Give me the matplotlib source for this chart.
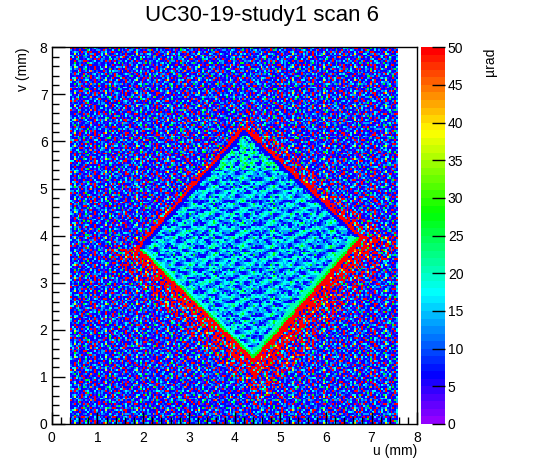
import colorsys
import numpy as np
import matplotlib
matplotlib.use("Agg")
import matplotlib.pyplot as plt
from matplotlib.colors import ListedColormap
from matplotlib.ticker import MultipleLocator

plt.rcParams['font.family'] = ['Liberation Sans', 'DejaVu Sans']

# --- data ---
title = "UC30-19-study1 scan 6"
x_label = "u (mm)"
y_label = "v (mm)"
z_label = "µrad"
z_ticks = [0, 5, 10, 15, 20, 25, 30, 35, 40, 45, 50]

# scanned area (mm) and bin width
u_range = [0.40, 7.57]
bin_w = 0.04

# diamond corners (u, v): top, right, bottom, left
corner_u = [4.20, 6.73, 4.41, 1.90]
corner_v = [6.25, 3.96, 1.39, 3.73]

# per edge: top->right, right->bottom, bottom->left, left->top
line_w = [0.05, 0.08, 0.06, 0.06]      # solid red line just outside
band1_w = [0.07, 0.05, 0.05, 0.08]     # first band just inside
band1_val = [6, 27, 26, 6]
band2_w = [0.0, 0.13, 0.10, 0.0]       # second band further inside
band2_val = [6, 20, 17, 6]
dense_w = [0.10, 0.35, 0.25, 0.0]      # dense red halo outside
sparse_w = [0.35, 0.75, 0.55, 0.15]    # sparse red halo outside
green_top_v = 5.4                      # greener interior above this v

# colour letters -> value in µrad ('.' = let the layer below show)
levels = {"p": 3, "b": 6, "d": 10, "l": 13, "c": 17, "t": 21,
          "g": 27, "y": 37, "o": 44, "r": 49}

# texture patches transcribed from zooms of the picture
bg_base = [
    "bldbbpbbdlbbdb",
    "dbbpbbldbbpbbl",
    "lbbdbbbbpbbdbb",
    "bpbbldbbbpblbd",
    "bbpbbbdlbdbbpb",
    "dbbdlbpbbbbdbl",
    "blbbbdbbpblbpb",
    "bdbpbblbdbdbbb",
    "pbbldbdbbpbbld",
    "pbbdbbpbblbbbb",
    "blbbdbbpbbbdpb",
    "bdbpbblbdbbbpb",
]
bg_spots1 = [
    "..r....c.....",
    ".....g....r..",
    "c.........l..",
    "...r...r.....",
    "........c...g",
    ".l...r.......",
    "......c...r..",
    "r..........c.",
    "....g...r....",
    ".c.......l...",
    "......r.....r",
]
bg_spots2 = [
    ".c....r.....y....",
    "....r.......c...r",
    "..g.....l........",
    "r.....c.....r....",
    "........r.....g..",
    ".l..o.........c..",
    "......r...c....r.",
]
inner_base = [
    "ccllbbbdllcctcll",
    "lcclbbdllcctccld",
    "lltcclddlbbdllcc",
    "ccttcclclbbbdlcc",
    "dbblccttcllccldb",
    "lbbbdllctcclbbdl",
    "llcdbdlccgtcclll",
    "cctlllcdbbdllctc",
    "ctcclldbbbdlcccl",
    "lbbdlcctclllcbbd",
    "dbbdlcctgtclldbb",
    "lcclllcctcllcdll",
]
inner_spots = [
    "...b....t..",
    "b......bb..",
    "....t......",
    ".bb......g.",
    "t.....c....",
    "...l....bb.",
    "..b...t....",
    "......b...c",
    "g..bb......",
]
top_base = [
    "tcgtcclttgcl",
    "cttlbbtcltgt",
    "tgclcbbctgtl",
    "ltcttbdgtclc",
    "gtlcltctcgtl",
    "clbbtgltcltg",
    "ctltlcgtcbbt",
    "tgtclttlgtcc",
]
dense_spots = [
    "rr.r.rr.yr",
    ".rrgr.r.rr",
    "r.rr.orr.r",
    "rr.rrr.c.r",
    ".rr.r.rrr.",
    "r.yrr.r.rg",
    "rr.r.rr.r.",
    ".r.rcr.rrr",
    "rrr..rr.r.",
]
sparse_spots = [
    "r...r..y..r",
    "..r....r...",
    ".r..g..r..r",
    "r....r.....",
    "..o.r...r.r",
    ".r......r..",
    "r..r.c.r...",
    "....r..r..r",
]

# --- build the 2D map ---
nb = int(round(8 / bin_w))
uc = (np.arange(nb) + 0.5) * bin_w
U, V = np.meshgrid(uc, uc)
I, J = np.meshgrid(np.arange(nb), np.arange(nb))


def tiled(rows):
    arr = np.array([[levels.get(ch, np.nan) for ch in r] for r in rows])
    return arr[J % arr.shape[0], I % arr.shape[1]]


def over(below, rows):
    t = tiled(rows)
    return np.where(np.isnan(t), below, t)


dist_in = []
for k in range(4):
    au, av = corner_u[k], corner_v[k]
    eu = corner_u[(k + 1) % 4] - au
    ev = corner_v[(k + 1) % 4] - av
    n = np.hypot(eu, ev)
    dist_in.append(-(eu * (V - av) - ev * (U - au)) / n)
dist_in = np.array(dist_in)
depth = dist_in.min(axis=0)
k_near = dist_in.argmin(axis=0)
out_d = -depth


def pick(vals):
    return np.array(vals, dtype=float)[k_near]


bg = over(over(tiled(bg_base), bg_spots1), bg_spots2)
outside = bg
outside = np.where(out_d < pick(sparse_w), over(bg, sparse_spots), outside)
outside = np.where(out_d < pick(dense_w), over(bg, dense_spots), outside)
outside = np.where(out_d < pick(line_w), levels["r"], outside)

inside = np.where(V > green_top_v, tiled(top_base), tiled(inner_base))
inside = over(inside, inner_spots)
inside = np.where(depth < pick(band2_w), pick(band2_val), inside)
inside = np.where(depth < pick(band1_w), pick(band1_val), inside)

z = np.where(depth > 0, inside, outside)
z[(U < u_range[0]) | (U > u_range[1])] = np.nan

# ROOT "pretty palette": 50 hues violet -> red
cols = []
for i in range(50):
    hue = 280 - (i + 1) * 280 / 50
    cols.append(colorsys.hls_to_rgb(hue / 360, 0.5, 1.0))
cmap = ListedColormap(cols)
cmap.set_bad("white")

# --- figure ---
fig = plt.figure(figsize=(5.46, 4.72), dpi=100)
ax = fig.add_axes([0.0947, 0.1017, 0.6696, 0.7981])
cax = fig.add_axes([0.7705, 0.1017, 0.0445, 0.7981])

im = ax.imshow(z, origin="lower", extent=[0, 8, 0, 8], cmap=cmap,
               vmin=0, vmax=50, interpolation="nearest", aspect="auto")
ax.set_xlim(0, 8)
ax.set_ylim(0, 8)
for a in (ax.xaxis, ax.yaxis):
    a.set_major_locator(MultipleLocator(1))
    a.set_minor_locator(MultipleLocator(0.2))
ax.tick_params(which="both", direction="in", top=False, right=False,
               width=1, labelsize=10)
ax.tick_params(which="major", length=9)
ax.tick_params(which="minor", length=5)
ax.tick_params(axis="x", pad=5)
ax.tick_params(axis="y", pad=3)
for s in ax.spines.values():
    s.set_linewidth(1)

cb = fig.colorbar(im, cax=cax, ticks=z_ticks)
cb.outline.set_visible(False)
cax.tick_params(direction="in", length=9.5, width=1, labelsize=10, pad=2)

fig.text(0.48, 0.968, title, ha="center", va="center", fontsize=16)
fig.text(0.764, 0.036, x_label, ha="right", va="baseline", fontsize=10)
fig.text(0.042, 0.9, y_label, ha="center", va="top", rotation=90, fontsize=10)
fig.text(0.897, 0.9, z_label, ha="center", va="top", rotation=90, fontsize=10)

fig.savefig("out.png", dpi=100)
